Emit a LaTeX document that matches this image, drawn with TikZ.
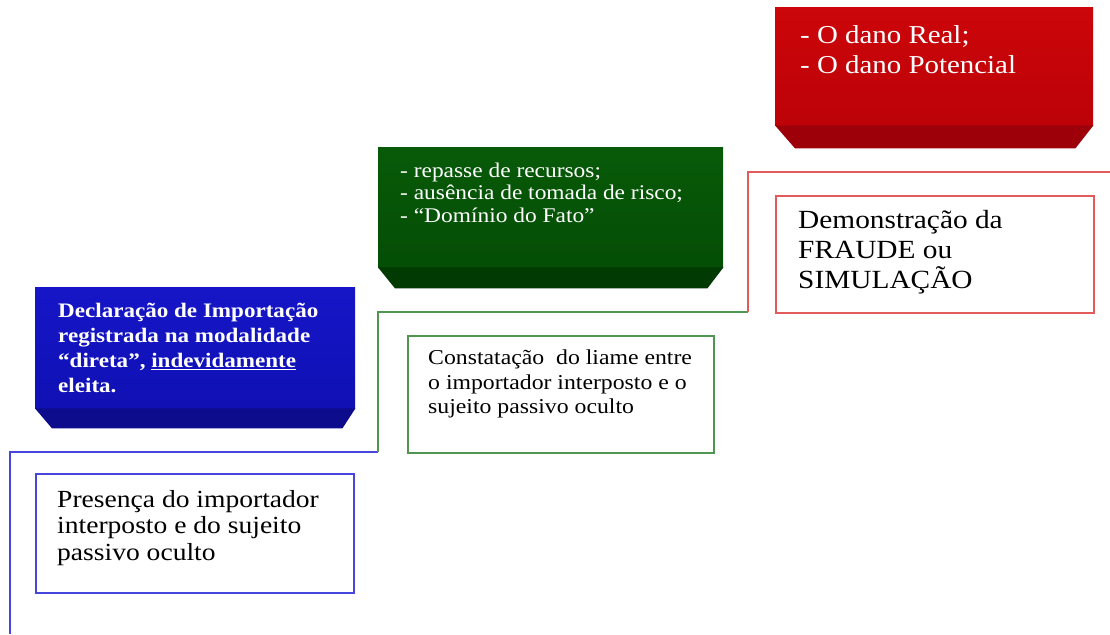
\documentclass[tikz,border=0pt]{standalone}
\usepackage{fontspec}
\setmainfont{Liberation Serif}[FakeStretch=1.12]
\definecolor{bface}{RGB}{22,22,200}
\definecolor{bface2}{RGB}{16,16,180}
\definecolor{bbev}{RGB}{12,12,140}
\definecolor{gface}{RGB}{8,90,8}
\definecolor{gface2}{RGB}{4,78,6}
\definecolor{gbev}{RGB}{2,58,4}
\definecolor{rface}{RGB}{204,6,10}
\definecolor{rface2}{RGB}{188,2,8}
\definecolor{rbev}{RGB}{158,0,10}
\definecolor{bline}{RGB}{70,70,220}
\definecolor{gline}{RGB}{80,150,80}
\definecolor{rline}{RGB}{226,90,90}
\tikzset{
  face/.style={draw=none, minimum width=#1, inner sep=0pt, anchor=north west},
  txt/.style={anchor=north west, align=left, inner sep=0pt, text=white},
  obox/.style={draw=#1, line width=2pt, anchor=north west, inner sep=0pt},
  otxt/.style={anchor=north west, align=left, inner sep=0pt, text=black},
  stepline/.style={draw=#1, line width=2pt}
}
\begin{document}
\begin{tikzpicture}[x=1pt,y=-1pt]
\useasboundingbox (0,0) rectangle (1110,634);
% blue filled box
\node[face=320pt, minimum height=121pt, top color=bface, bottom color=bface2] (bf) at (35,287) {};
\fill[bbev] (bf.south west) -- (bf.south east) -- ([xshift=-13pt,yshift=-20pt]bf.south east) -- ([xshift=17pt,yshift=-20pt]bf.south west) -- cycle;
\node[txt, font=\bfseries\fontsize{20.6}{25}\selectfont] (bt) at (58,299.5) {\strut Declaração de Importação\\registrada na modalidade\\“direta”, \underline{indevidamente}\\eleita.};
% green filled box
\node[face=345pt, minimum height=120pt, top color=gface, bottom color=gface2] (gf) at (378,147) {};
\fill[gbev] (gf.south west) -- (gf.south east) -- ([xshift=-16pt,yshift=-21pt]gf.south east) -- ([xshift=17pt,yshift=-21pt]gf.south west) -- cycle;
\node[txt, font=\fontsize{20.9}{22.5}\selectfont] (gt) at (400,161.5) {\strut - repasse de recursos;\\- ausência de tomada de risco;\\- “Domínio do Fato”};
% red filled box
\node[face=318pt, minimum height=118pt, top color=rface, bottom color=rface2] (rf) at (775,7) {};
\fill[rbev] (rf.south west) -- (rf.south east) -- ([xshift=-18pt,yshift=-23pt]rf.south east) -- ([xshift=20pt,yshift=-23pt]rf.south west) -- cycle;
\node[txt, font=\fontsize{25.8}{30}\selectfont] (rt) at (800,22) {\strut - O dano Real;\\- O dano Potencial};
% outlined boxes
\node[obox=bline, minimum width=318pt, minimum height=119pt] (bo) at (35,473) {};
\node[otxt, font=\fontsize{24.6}{26.5}\selectfont] (bot) at (57,488.5) {\strut Presença do importador\\interposto e do sujeito\\passivo oculto};
\node[obox=gline, minimum width=306pt, minimum height=117pt] (go) at (407,335) {};
\node[otxt, font=\fontsize{21.2}{24.5}\selectfont] (got) at (428,347.5) {\strut Constatação \ do liame entre\\o importador interposto e o\\sujeito passivo oculto};
\node[obox=rline, minimum width=318pt, minimum height=117pt] (ro) at (775,195) {};
\node[otxt, font=\fontsize{26.2}{30}\selectfont] (rot) at (798,207) {\strut Demonstração da\\FRAUDE ou\\SIMULAÇÃO};
% step lines
\coordinate (s0) at (10,634);
\coordinate (s1) at (10,452);
\coordinate (s2) at (378,452);
\coordinate (s3) at (378,312);
\coordinate (s4) at (748,312);
\coordinate (s5) at (748,172);
\coordinate (s6) at (1110,172);
\draw[stepline=bline] (s0) -- (s1) -- (s2);
\draw[stepline=gline] (s2) -- (s3) -- (s4);
\draw[stepline=rline] (s4) -- (s5) -- (s6);
\end{tikzpicture}
\end{document}
